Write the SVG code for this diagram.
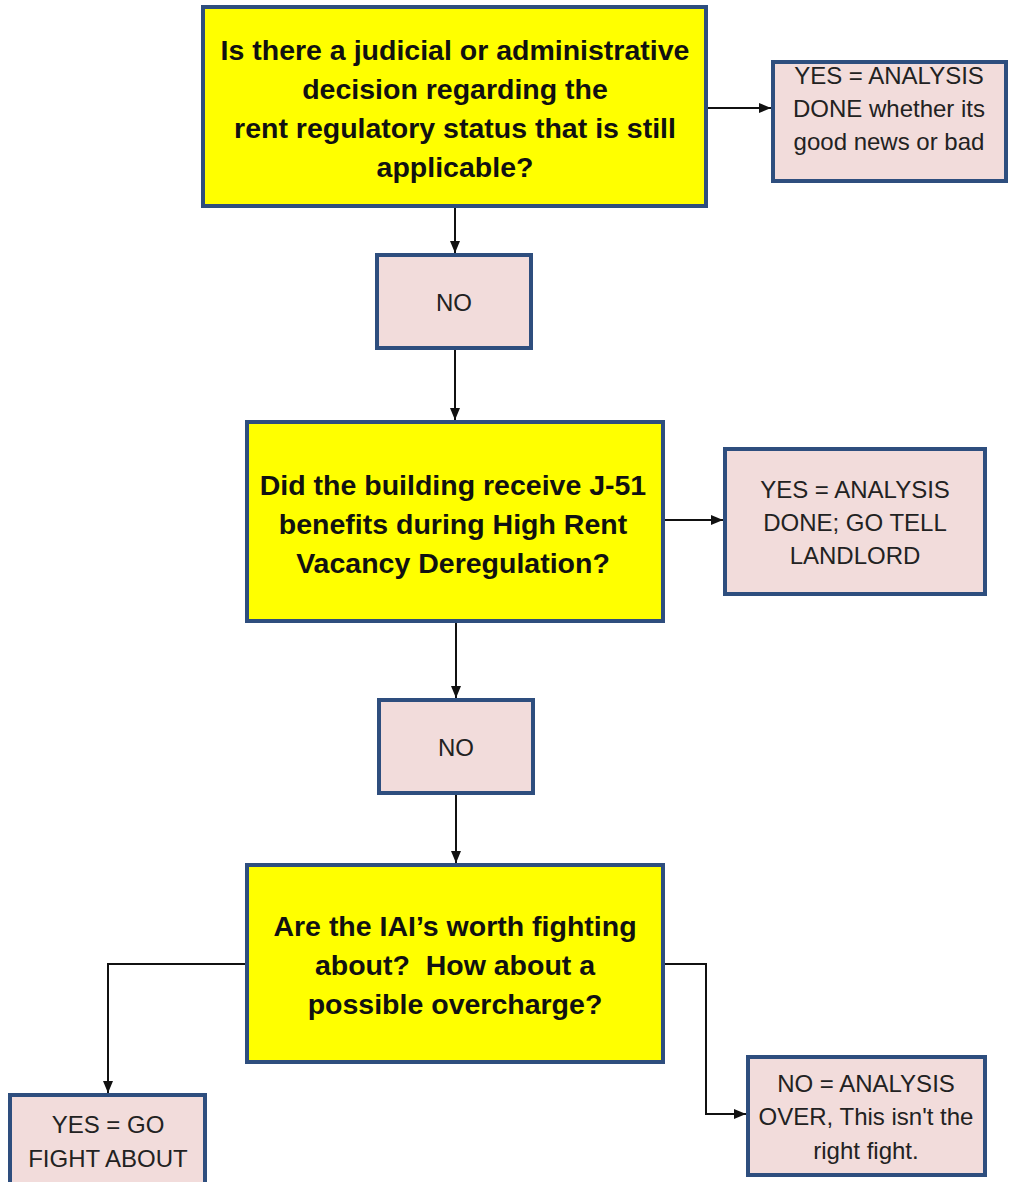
<svg xmlns="http://www.w3.org/2000/svg" width="1021" height="1182" viewBox="0 0 1021 1182">
<style>
.q{fill:#ffff00;stroke:#2e4e7e;stroke-width:4}
.a{fill:#f2dcdb;stroke:#2e4e7e;stroke-width:4}
.qt{font-family:"Liberation Sans",Arial,sans-serif;font-weight:bold;font-size:28.5px;fill:#111;text-anchor:middle}
.at{font-family:"Liberation Sans",Arial,sans-serif;font-size:24px;fill:#222;text-anchor:middle}
.c{fill:none;stroke:#111;stroke-width:2}
</style>
<defs>
<marker id="ah" viewBox="0 0 12 10" refX="12" refY="5" markerWidth="12" markerHeight="10" orient="auto" markerUnits="userSpaceOnUse">
<path d="M0,0 L12,5 L0,10 z" fill="#111"/>
</marker>
</defs>
<rect width="1021" height="1182" fill="#fff"/>
<g id="connectors">
<path class="c" d="M706,108 H771" marker-end="url(#ah)"/>
<path class="c" d="M455,206 V253" marker-end="url(#ah)"/>
<path class="c" d="M455,348 V420" marker-end="url(#ah)"/>
<path class="c" d="M663,520 H723" marker-end="url(#ah)"/>
<path class="c" d="M456,621 V698" marker-end="url(#ah)"/>
<path class="c" d="M456,793 V863" marker-end="url(#ah)"/>
<path class="c" d="M247,964 H108 V1093" marker-end="url(#ah)"/>
<path class="c" d="M663,964 H706 V1114 H746" marker-end="url(#ah)"/>
</g>
<g id="q1">
<rect class="q" x="203" y="7" width="503" height="199"/>
<text class="qt"><tspan x="455" y="60">Is there a judicial or administrative</tspan><tspan x="455" y="99">decision regarding the</tspan><tspan x="455" y="138">rent regulatory status that is still</tspan><tspan x="455" y="177">applicable?</tspan></text>
</g>
<g id="yes1">
<rect class="a" x="773" y="62" width="233" height="119"/>
<text class="at"><tspan x="889" y="84">YES = ANALYSIS</tspan><tspan x="889" y="117">DONE whether its</tspan><tspan x="889" y="150">good news or bad</tspan></text>
</g>
<g id="no1">
<rect class="a" x="377" y="255" width="154" height="93"/>
<text class="at" x="454" y="311">NO</text>
</g>
<g id="q2">
<rect class="q" x="247" y="422" width="416" height="199"/>
<text class="qt"><tspan x="453" y="495">Did the building receive J-51</tspan><tspan x="453" y="534">benefits during High Rent</tspan><tspan x="453" y="573">Vacancy Deregulation?</tspan></text>
</g>
<g id="yes2">
<rect class="a" x="725" y="449" width="260" height="145"/>
<text class="at"><tspan x="855" y="498">YES = ANALYSIS</tspan><tspan x="855" y="531">DONE; GO TELL</tspan><tspan x="855" y="564">LANDLORD</tspan></text>
</g>
<g id="no2">
<rect class="a" x="379" y="700" width="154" height="93"/>
<text class="at" x="456" y="756">NO</text>
</g>
<g id="q3">
<rect class="q" x="247" y="865" width="416" height="197"/>
<text class="qt" xml:space="preserve"><tspan x="455" y="936">Are the IAI’s worth fighting</tspan><tspan x="455" y="975">about?  How about a</tspan><tspan x="455" y="1014">possible overcharge?</tspan></text>
</g>
<g id="yes3">
<rect class="a" x="10" y="1095" width="195" height="100"/>
<text class="at"><tspan x="108" y="1133">YES = GO</tspan><tspan x="108" y="1167">FIGHT ABOUT</tspan></text>
</g>
<g id="no3">
<rect class="a" x="748" y="1057" width="237" height="118"/>
<text class="at"><tspan x="866" y="1092">NO = ANALYSIS</tspan><tspan x="866" y="1125">OVER, This isn't the</tspan><tspan x="866" y="1159">right fight.</tspan></text>
</g>
</svg>
